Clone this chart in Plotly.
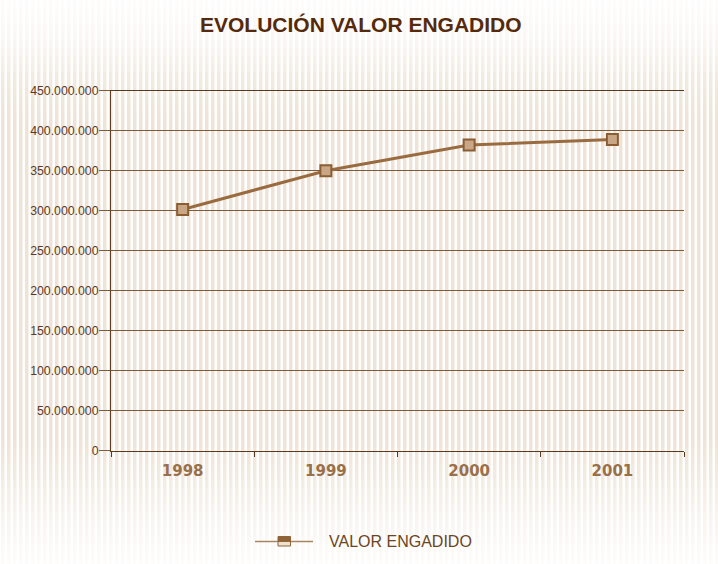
import numpy as np
import plotly.graph_objects as go

# ---- data ----
years = ["1998", "1999", "2000", "2001"]
valor = [301_500_000, 350_000_000, 382_000_000, 389_000_000]
y_tick_vals = [0, 50_000_000, 100_000_000, 150_000_000, 200_000_000,
               250_000_000, 300_000_000, 350_000_000, 400_000_000, 450_000_000]
title_text = "EVOLUCIÓN VALOR ENGADIDO"
series_name = "VALOR ENGADIDO"

W, H = 718, 564

# ---- decorative striped background (pixel-space heatmap) ----
stripe_x = np.arange(3, W + 3, 6)
row_y = np.arange(4, H + 4, 8)
fade = np.interp(row_y, [0, 40, 80, 120, 440, 490, 530, 564],
                 [0.08, 0.3, 0.75, 1.0, 1.0, 0.6, 0.3, 0.1])
z = np.tile(fade[:, None], (1, len(stripe_x)))

fig = go.Figure()
fig.add_trace(go.Heatmap(
    x=stripe_x, y=row_y, z=z, xgap=2.5, ygap=0,
    colorscale=[[0, "#ffffff"], [1, "#eee3d6"]], zmin=0, zmax=1,
    showscale=False, hoverinfo="skip", xaxis="x", yaxis="y"))

# ---- main series ----
fig.add_trace(go.Scatter(
    x=years, y=valor, name=series_name, mode="lines+markers",
    line=dict(color="#9a6b3f", width=3),
    marker=dict(symbol="square", size=11, color="#c9a686",
                line=dict(color="#8a5d33", width=2)),
    xaxis="x2", yaxis="y2", showlegend=False))

x0, x1 = 111 / W, 684 / W
y0, y1 = (H - 450.7) / H, (H - 90.7) / H

fig.update_layout(
    width=W, height=H,
    margin=dict(l=0, r=0, t=0, b=0, pad=0, autoexpand=False),
    paper_bgcolor="#ffffff", plot_bgcolor="rgba(0,0,0,0)",
    separators=",.",
    showlegend=False,
    xaxis=dict(domain=[0, 1], range=[0, W], visible=False, fixedrange=True,
               automargin=False),
    yaxis=dict(domain=[0, 1], range=[H, 0], visible=False, fixedrange=True,
               automargin=False),
    xaxis2=dict(domain=[x0, x1], anchor="y2", type="category",
                categoryorder="array", categoryarray=years,
                range=[-0.5, 3.5], tickson="boundaries",
                ticks="outside", ticklen=5, tickcolor="#5a3a1e", tickwidth=1,
                showline=True, linecolor="#5a3a1e", linewidth=1.2, mirror=True,
                showgrid=False, zeroline=False, automargin=False,
                tickfont=dict(family="DejaVu Sans", size=15, color="#9a7048",
                              weight="bold"),
                ticklabelstandoff=6),
    yaxis2=dict(domain=[y0, y1], anchor="x2", range=[0, 450_000_000],
                tickvals=y_tick_vals, tickformat=",d",
                ticks="outside", ticklen=11, tickcolor="#7d5a38", tickwidth=1,
                showline=True, linecolor="#5f3f20", linewidth=1,
                showgrid=True, gridcolor="#7d5a38", gridwidth=1,
                zeroline=False, automargin=False,
                tickfont=dict(family="Liberation Sans", size=12.3,
                              color="#5b3b1f"),
                ticklabelstandoff=-2),
)

# title
fig.add_annotation(text=title_text, xref="x", yref="y", x=360.5, y=24,
                   showarrow=False, xanchor="center", yanchor="middle",
                   font=dict(family="Liberation Sans", size=21,
                             color="#56290a", weight="bold"))

# custom legend
fig.add_shape(type="line", xref="x", yref="y", x0=255, x1=313, y0=541.5,
              y1=541.5, line=dict(color="#a8865f", width=1.5))
fig.add_shape(type="rect", xref="x", yref="y", x0=278, x1=290.5, y0=541.3,
              y1=546, fillcolor="#ede2d0", line=dict(color="#8f6438", width=1))
fig.add_shape(type="rect", xref="x", yref="y", x0=278, x1=290.5, y0=536.5,
              y1=541.3, fillcolor="#8f6438", line=dict(color="#8f6438", width=1))
fig.add_annotation(text=series_name, xref="x", yref="y", x=327, y=541,
                   showarrow=False, xanchor="left", yanchor="middle",
                   font=dict(family="Liberation Sans", size=16, color="#6b4522"))

fig.write_html(
    "out.html",
    config={"displayModeBar": False, "staticPlot": True},
    post_script="document.body.style.margin='0';document.body.style.padding='0';",
)
